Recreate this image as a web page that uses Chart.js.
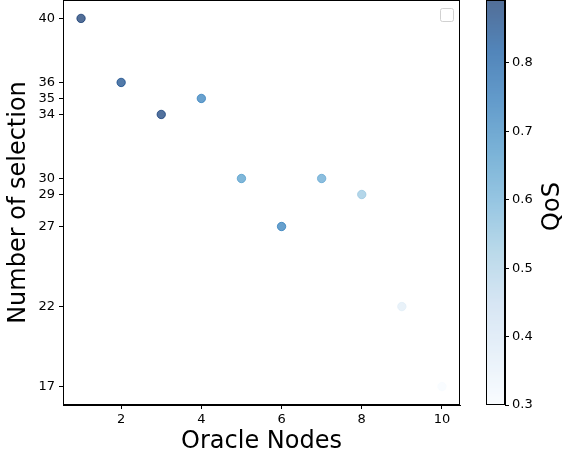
<!DOCTYPE html>
<html>
<head>
<meta charset="utf-8">
<script src="https://cdn.jsdelivr.net/npm/chart.js@4"></script>
<style>
  html, body { margin: 0; padding: 0; background: #fff; }
  #wrap { position: relative; width: 564px; height: 460px; }
  #main { position: absolute; left: 0; top: 0; }
  #cbar { position: absolute; left: 470px; top: 0; }
</style>
</head>
<body>
<div id="wrap">
  <canvas id="main" width="564" height="460"></canvas>
  <canvas id="cbar" width="94" height="460"></canvas>
</div>
<script>
// ---- data ----
const nodes = [1, 2, 3, 4, 5, 6, 7, 8, 9, 10];
const selections = [40, 36, 34, 35, 30, 27, 30, 29, 22, 17];
const qos = [0.892, 0.855, 0.88, 0.726, 0.655, 0.73, 0.625, 0.537, 0.37, 0.30];
const yTicks = [17, 22, 27, 29, 30, 34, 35, 36, 40];
const xTicks = [2, 4, 6, 8, 10];
const cbTicks = [0.3, 0.4, 0.5, 0.6, 0.7, 0.8];
const qosMin = 0.3, qosMax = 0.892;

// matplotlib "Blues"
const bluesStops = [
  [247,251,255],[222,235,247],[198,219,239],[158,202,225],[107,174,214],
  [66,146,198],[33,113,181],[8,81,156],[8,48,107]
];
function blues(t) {
  t = Math.max(0, Math.min(1, t));
  const p = t * (bluesStops.length - 1);
  const i = Math.min(Math.floor(p), bluesStops.length - 2);
  const f = p - i;
  const a = bluesStops[i], b = bluesStops[i + 1];
  return [0,1,2].map(k => Math.round(a[k] + (b[k] - a[k]) * f));
}
function qosColor(v, alpha) {
  const c = blues((v - qosMin) / (qosMax - qosMin));
  return `rgba(${c[0]},${c[1]},${c[2]},${alpha})`;
}

const FONT = 'DejaVu Sans';
Chart.defaults.font.family = FONT;
Chart.defaults.color = '#000';

const points = nodes.map((n, i) => ({ x: n, y: selections[i] }));
const colors = qos.map(v => qosColor(v, 0.7));

function noPadV(s) { s.paddingTop = 0; s.paddingBottom = 0; }
function noPadH(s) { s.paddingLeft = 0; s.paddingRight = 0; }

const framePlugin = {
  id: 'frame',
  afterDraw(chart) {
    const { ctx, chartArea: a } = chart;
    ctx.save();
    ctx.strokeStyle = '#000';
    ctx.lineWidth = 1;
    ctx.strokeRect(Math.round(a.left) + 0.5, Math.round(a.top) + 0.5,
                   Math.round(a.right - a.left) - 1, Math.round(a.bottom - a.top) - 1);
    if (chart.canvas.id === 'main') {
      // empty legend box (top-right)
      const x = a.right - 20, y = a.top + 8, w = 13, h = 13, r = 2;
      ctx.strokeStyle = 'rgba(204,204,204,0.9)';
      ctx.fillStyle = 'rgba(255,255,255,0.8)';
      ctx.beginPath();
      ctx.roundRect(x + 0.5, y + 0.5, w, h, r);
      ctx.fill();
      ctx.stroke();
    }
    ctx.restore();
  }
};

new Chart(document.getElementById('main'), {
  type: 'scatter',
  data: {
    datasets: [{
      data: points,
      backgroundColor: colors,
      borderColor: colors,
      borderWidth: 1,
      pointRadius: 4.2,
      pointHoverRadius: 4.2
    }]
  },
  options: {
    responsive: false,
    animation: false,
    events: [],
    layout: { autoPadding: false, padding: { top: 0, right: 104, left: 0, bottom: 0 } },
    plugins: { legend: { display: false }, tooltip: { enabled: false } },
    scales: {
      x: {
        type: 'linear',
        min: 0.55, max: 10.45,
        afterBuildTicks(s) { s.ticks = xTicks.map(v => ({ value: v })); },
        afterFit(s) { s.height = 55; noPadH(s); },
        grid: { display: true, drawOnChartArea: false, drawTicks: true, tickLength: 4, color: '#000' },
        border: { display: true, color: '#000', width: 1 },
        ticks: { font: { size: 13 }, color: '#000', padding: 3, maxRotation: 0 },
        title: { display: true, text: 'Oracle Nodes', font: { size: 24 }, color: '#000', padding: { top: 4, bottom: 4 } }
      },
      y: {
        type: 'linear',
        min: 15.85, max: 41.15,
        afterBuildTicks(s) { s.ticks = yTicks.map(v => ({ value: v })); },
        afterFit(s) { s.width = 63; noPadV(s); },
        grid: { display: true, drawOnChartArea: false, drawTicks: true, tickLength: 4, color: '#000' },
        border: { display: true, color: '#000', width: 1 },
        ticks: { font: { size: 13 }, color: '#000', padding: 4 },
        title: { display: true, text: 'Number of selection', font: { size: 24 }, color: '#000', padding: { top: 4, bottom: 4 } }
      }
    }
  },
  plugins: [framePlugin]
});

const gradientPlugin = {
  id: 'gradientBar',
  beforeDatasetsDraw(chart) {
    const { ctx, chartArea: a } = chart;
    const s = chart.scales.y;
    ctx.save();
    for (let py = Math.floor(a.top); py < Math.ceil(a.bottom); py++) {
      const v = s.getValueForPixel(py + 0.5);
      ctx.fillStyle = qosColor(v, 0.7);
      ctx.fillRect(a.left, py, a.right - a.left, 1);
    }
    ctx.restore();
  },
  afterDraw(chart) {
    const { ctx, chartArea: a } = chart;
    ctx.save();
    ctx.fillStyle = '#000';
    ctx.font = `24px "${FONT}"`;
    ctx.textAlign = 'center';
    ctx.textBaseline = 'middle';
    ctx.translate(83, (a.top + a.bottom) / 2 + 4);
    ctx.rotate(-Math.PI / 2);
    ctx.fillText('QoS', 0, 0);
    ctx.restore();
  }
};

new Chart(document.getElementById('cbar'), {
  type: 'scatter',
  data: { datasets: [{ data: [] }] },
  options: {
    responsive: false,
    animation: false,
    events: [],
    layout: { autoPadding: false, padding: { top: 0, left: 16, right: 0, bottom: 55 } },
    plugins: { legend: { display: false }, tooltip: { enabled: false } },
    scales: {
      x: { display: false, min: 0, max: 1 },
      y: {
        type: 'linear',
        position: 'right',
        min: qosMin, max: qosMax,
        afterBuildTicks(s) { s.ticks = cbTicks.map(v => ({ value: v })); },
        afterFit(s) { s.width = 59; noPadV(s); },
        grid: { display: true, drawOnChartArea: false, drawTicks: true, tickLength: 4, color: '#000' },
        border: { display: true, color: '#000', width: 1 },
        ticks: { font: { size: 13 }, color: '#000', padding: 3, callback: v => v.toFixed(1) }
      }
    }
  },
  plugins: [gradientPlugin, framePlugin]
});
</script>
</body>
</html>
